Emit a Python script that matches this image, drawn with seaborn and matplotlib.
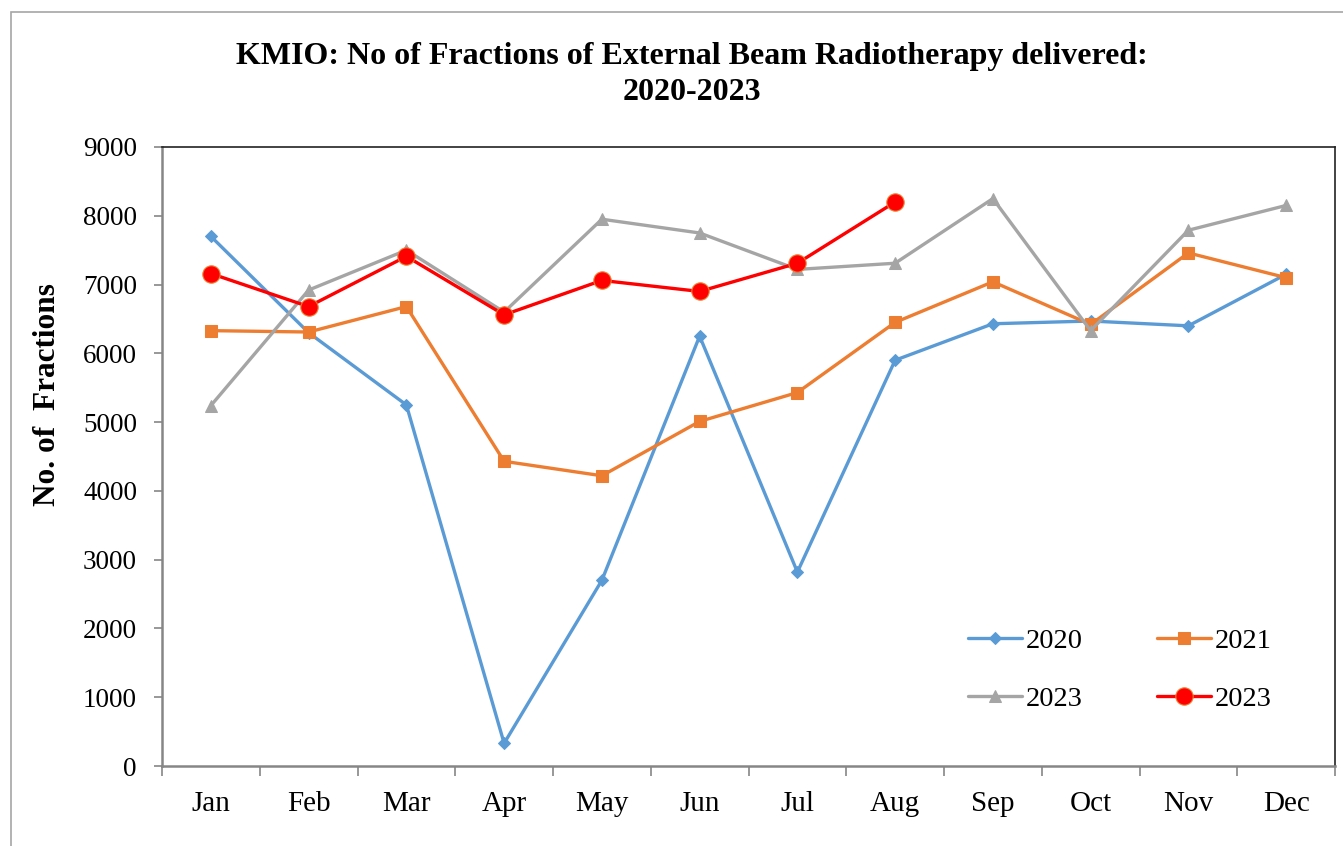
import matplotlib
matplotlib.use("Agg")
import matplotlib.pyplot as plt
import matplotlib.patches as mpatches
import seaborn as sns
import pandas as pd

months = ['Jan', 'Feb', 'Mar', 'Apr', 'May', 'Jun', 'Jul', 'Aug', 'Sep', 'Oct', 'Nov', 'Dec']
y2020 = [7700, 6300, 5250, 330, 2700, 6250, 2820, 5900, 6430, 6470, 6400, 7150]
y2021 = [6330, 6310, 6680, 4430, 4220, 5010, 5430, 6450, 7040, 6420, 7460, 7100]
y2023_grey = [5240, 6920, 7500, 6600, 7950, 7750, 7220, 7310, 8250, 6330, 7790, 8150]
y2023_red = [7160, 6680, 7410, 6560, 7060, 6900, 7310, 8200]

sns.set_style('white')
plt.rcParams['font.family'] = ['Liberation Serif', 'DejaVu Serif']
plt.rcParams['text.color'] = 'black'
plt.rcParams['xtick.color'] = 'black'
plt.rcParams['ytick.color'] = 'black'
plt.rcParams['axes.labelcolor'] = 'black'

fig = plt.figure(figsize=(13.43, 8.46), dpi=100)
ax = fig.add_axes([162/1343, 1 - 766/846, (1335-162)/1343, (766-147)/846])

# outer chart border (Excel chart area)
fig.patches.append(mpatches.Rectangle((11/1343, -0.1), 1.2, 1 - 12/846 + 0.1,
                                      transform=fig.transFigure, fill=False,
                                      edgecolor='#a6a6a6', lw=1.2, zorder=0))

lw = 2.4
sns.lineplot(x=months, y=y2020, ax=ax, sort=False, color='#5B9BD5', lw=lw,
             marker='D', markersize=6, markeredgecolor='#5B9BD5', label='2020')
sns.lineplot(x=months, y=y2021, ax=ax, sort=False, color='#ED7D31', lw=lw,
             marker='s', markersize=8, markeredgecolor='#ED7D31', label='2021')
sns.lineplot(x=months, y=y2023_grey, ax=ax, sort=False, color='#A5A5A5', lw=lw,
             marker='^', markersize=9, markeredgecolor='#A5A5A5', label='2023')
sns.lineplot(x=months[:len(y2023_red)], y=y2023_red, ax=ax, sort=False, color='#FF0000', lw=lw,
             marker='o', markersize=12.5, markeredgecolor='#ED7D31', markeredgewidth=0.8,
             label='2023')

ax.set_xlim(-0.5, 11.5)
ax.set_ylim(0, 9000)
ax.set_yticks(range(0, 9001, 1000))
ax.set_xticks(range(12))
ax.set_xticklabels(months)
ax.set_xticks([i - 0.5 for i in range(13)], minor=True)
ax.tick_params(axis='x', which='major', length=0, pad=18, labelsize=21)
ax.tick_params(axis='x', which='minor', length=7, width=1.2, color='#868686', direction='out', bottom=True)
ax.tick_params(axis='y', which='major', length=6, width=1.2, color='#868686', direction='out',
               left=True, pad=12, labelsize=19.5)

for side in ['left', 'bottom']:
    ax.spines[side].set_color('#868686')
    ax.spines[side].set_linewidth(1.8)
for side in ['top', 'right']:
    ax.spines[side].set_color('#222222')
    ax.spines[side].set_linewidth(1.2)

ax.set_xlabel('')
ax.set_ylabel('No. of  Fractions', fontsize=22.5, fontweight='bold')
ax.yaxis.set_label_coords(-0.085, 0.60)

fig.text(692/1343, 1 - 42/846,
         'KMIO: No of Fractions of External Beam Radiotherapy delivered:\n2020-2023',
         ha='center', va='top', fontsize=23, fontweight='bold', linespacing=1.32)

h, l = ax.get_legend_handles_labels()
order = [0, 2, 1, 3]
ax.legend([h[i] for i in order], [l[i] for i in order], ncol=2, frameon=False,
          loc='upper left', bbox_to_anchor=(0.675, 0.246), fontsize=20.5,
          handlelength=1.9, handletextpad=0.14, columnspacing=2.6,
          labelspacing=1.12, borderpad=0)

fig.savefig('out.png', dpi=100)
